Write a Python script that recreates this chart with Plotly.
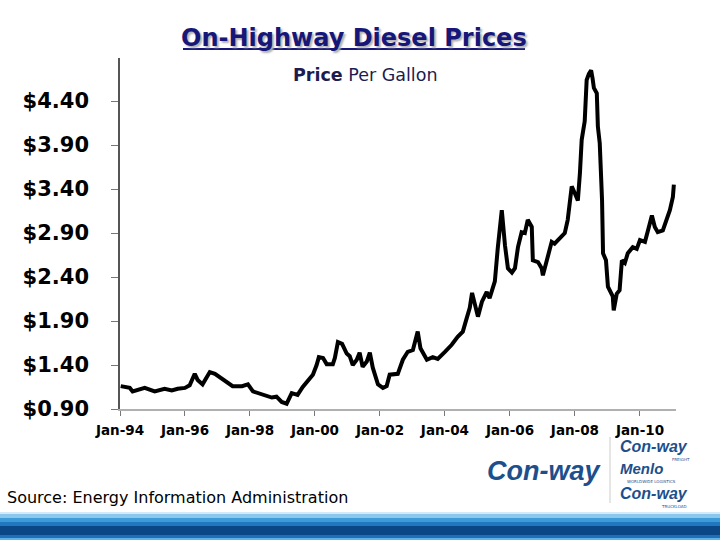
import plotly.graph_objects as go

# ---------------- data ----------------
dates = [
    "1994-01-09", "1994-04-21", "1994-05-23", "1994-10-06", "1995-01-26", "1995-05-17",
    "1995-08-06", "1995-10-12", "1996-01-01", "1996-02-23", "1996-04-20", "1996-05-23",
    "1996-07-17", "1996-10-06", "1996-12-03", "1997-03-23", "1997-06-20", "1997-10-03",
    "1997-12-09", "1998-02-03", "1998-05-12", "1998-09-03", "1998-10-26", "1998-12-23",
    "1999-02-17", "1999-04-15", "1999-06-20", "1999-08-17", "1999-11-06", "1999-12-09",
    "2000-01-20", "2000-02-14", "2000-04-01", "2000-05-12", "2000-07-20", "2000-08-12",
    "2000-09-15", "2000-11-01", "2000-12-23", "2001-01-26", "2001-03-01", "2001-04-15",
    "2001-05-17", "2001-06-20", "2001-08-06", "2001-09-09", "2001-10-12", "2001-12-09",
    "2002-02-03", "2002-03-17", "2002-04-20", "2002-06-15", "2002-07-20", "2002-09-15",
    "2002-11-09", "2003-01-06", "2003-03-01", "2003-04-01", "2003-06-12", "2003-08-17",
    "2003-10-12", "2004-01-01", "2004-03-17", "2004-05-23", "2004-07-20", "2004-09-01",
    "2004-10-06", "2004-11-01", "2004-12-01", "2005-01-06", "2005-02-20", "2005-04-15",
    "2005-05-17", "2005-07-15", "2005-08-17", "2005-10-01", "2005-11-06", "2005-12-09",
    "2006-01-23", "2006-02-26", "2006-04-01", "2006-05-12", "2006-06-17", "2006-07-20",
    "2006-09-03", "2006-09-15", "2006-11-12", "2006-12-23", "2007-01-06", "2007-02-20",
    "2007-04-15", "2007-05-17", "2007-07-15", "2007-09-09", "2007-10-12", "2007-11-26",
    "2008-01-01", "2008-02-03", "2008-02-26", "2008-03-17", "2008-04-20", "2008-05-12",
    "2008-06-06", "2008-07-01", "2008-07-17", "2008-08-01", "2008-09-03", "2008-09-15",
    "2008-10-06", "2008-11-01", "2008-11-12", "2008-12-15", "2009-01-06", "2009-02-01",
    "2009-03-01", "2009-03-12", "2009-04-15", "2009-05-17", "2009-06-12", "2009-07-15",
    "2009-08-17", "2009-10-12", "2009-11-26", "2010-01-01", "2010-02-26", "2010-04-01",
    "2010-05-15", "2010-06-17", "2010-07-20", "2010-09-15", "2010-11-01", "2010-12-03",
    "2011-01-06", "2011-01-17",
]
prices = [
    1.16, 1.14, 1.10, 1.14, 1.10, 1.13,
    1.11, 1.13, 1.14, 1.17, 1.30, 1.23,
    1.18, 1.32, 1.30, 1.23, 1.16, 1.16,
    1.18, 1.10, 1.07, 1.03, 1.04, 0.98,
    0.96, 1.08, 1.06, 1.15, 1.25, 1.29,
    1.40, 1.49, 1.48, 1.41, 1.41, 1.48,
    1.66, 1.64, 1.53, 1.50, 1.40, 1.46,
    1.54, 1.38, 1.44, 1.54, 1.37, 1.18,
    1.14, 1.16, 1.29, 1.29, 1.30, 1.46,
    1.55, 1.57, 1.78, 1.59, 1.46, 1.49,
    1.47, 1.55, 1.63, 1.72, 1.78, 1.93,
    2.05, 2.22, 2.08, 1.95, 2.12, 2.23,
    2.16, 2.35, 2.73, 3.16, 2.76, 2.50,
    2.45, 2.50, 2.74, 2.91, 2.90, 3.05,
    2.97, 2.59, 2.57, 2.50, 2.42, 2.59,
    2.80, 2.78, 2.84, 2.90, 3.05, 3.43,
    3.35, 3.27, 3.58, 3.96, 4.17, 4.64,
    4.71, 4.75, 4.66, 4.55, 4.49, 4.11,
    3.92, 3.27, 2.67, 2.59, 2.29, 2.23,
    2.18, 2.02, 2.21, 2.25, 2.59, 2.56,
    2.67, 2.74, 2.72, 2.82, 2.80, 2.93,
    3.10, 2.97, 2.91, 2.93, 3.05, 3.16,
    3.31, 3.45,
]
y_tick_values = [0.90, 1.40, 1.90, 2.40, 2.90, 3.40, 3.90, 4.40]
y_tick_labels = ["$0.90", "$1.40", "$1.90", "$2.40", "$2.90", "$3.40", "$3.90", "$4.40"]

title_text = "On-Highway Diesel Prices"
source_text = "Source: Energy Information Administration"

# ---------------- layout helpers (pixel -> paper) ----------------
W, H = 720, 540
L, R, T, B = 120, 44, 58, 131
PW, PH = W - L - R, H - T - B


def px(x):
    return (x - L) / PW


def py(y):
    return (H - B - y) / PH


fig = go.Figure()
fig.add_trace(go.Scatter(
    x=dates, y=prices, mode="lines",
    line=dict(color="black", width=4),
    hoverinfo="x+y", showlegend=False,
))

NAVY = "#17177a"
LOGO = "#1d4f8c"


def note(text, x, y, size, family="DejaVu Sans", color="black", anchor="center", **kw):
    return dict(text=text, x=px(x), y=py(y), xref="paper", yref="paper",
                showarrow=False, xanchor=anchor, yanchor="middle", borderpad=0,
                font=dict(family=family, size=size, color=color, **kw))


annotations = [
    note(f"<b>{title_text}</b>", 354, 38, 24, color=NAVY, shadow="2px 2px 2px #b0b0b0"),
    note("<b>Price</b> Per Gallon", 365, 75, 17.5, color="#1c1c50"),
    note(source_text, 6, 497, 16, anchor="left"),
    note("<b><i>Con-way</i></b>", 544, 471, 27, family="Liberation Sans", color=LOGO),
    note("<b><i>Con-way</i></b>", 654, 446, 16, family="Liberation Sans", color=LOGO),
    note("<b><i>Menlo</i></b>", 641, 468, 15, family="Liberation Sans", color=LOGO),
    note("<b><i>Con-way</i></b>", 654, 493, 16, family="Liberation Sans", color=LOGO),
    note("FREIGHT", 681, 459, 4, color=LOGO),
    note("WORLDWIDE LOGISTICS", 651, 481, 4, color=LOGO),
    note("TRUCKLOAD", 674, 506, 4, color=LOGO),
]

shapes = [
    # title underline
    dict(type="line", xref="paper", yref="paper", x0=px(183), x1=px(525), y0=py(49), y1=py(49),
         line=dict(color=NAVY, width=2)),
    # logo separator
    dict(type="line", xref="paper", yref="paper", x0=px(610), x1=px(610), y0=py(437), y1=py(503),
         line=dict(color="#cccccc", width=1)),
]

# decorative stripes at the bottom
stripes = [
    (512, 514, "#d4eaf8"),
    (514, 518, "#8cc8ee"),
    (518, 522, "#3f9ad8"),
    (522, 526, "#1f78c0"),
    (526, 535, "#0b4785"),
    (535, 538, "#1e6fb8"),
    (538, 540, "#64b2e5"),
]
for y0, y1, c in stripes:
    shapes.append(dict(type="rect", xref="paper", yref="paper", x0=px(0), x1=px(W),
                       y0=py(y1), y1=py(y0), fillcolor=c, line=dict(width=0), layer="above"))

fig.update_layout(
    width=W, height=H,
    margin=dict(l=L, r=R, t=T, b=B, pad=0),
    paper_bgcolor="white", plot_bgcolor="white",
    annotations=annotations, shapes=shapes,
    showlegend=False,
    xaxis=dict(
        range=["1994-01-01", "2011-02-10"],
        tick0="1994-01-01", dtick="M24", tickformat="%b-%y",
        showgrid=False, zeroline=False,
        showline=True, linecolor="#b0b0b0", linewidth=1.5,
        ticks="outside", ticklen=5, tickcolor="#777777", tickwidth=1,
        ticklabelstandoff=3,
        tickfont=dict(family="DejaVu Sans", size=13.5, color="black", weight="bold"),
    ),
    yaxis=dict(
        range=[0.90, 4.89],
        tickvals=y_tick_values, ticktext=y_tick_labels,
        showgrid=False, zeroline=False,
        showline=True, linecolor="#555555", linewidth=1.5,
        ticks="outside", ticklen=7, tickcolor="#777777", tickwidth=1,
        ticklabelstandoff=18,
        tickfont=dict(family="DejaVu Sans", size=21, color="black", weight="bold"),
    ),
)

fig.write_html("out.html", config={"displayModeBar": False},
               post_script="document.body.style.margin='0px';")
